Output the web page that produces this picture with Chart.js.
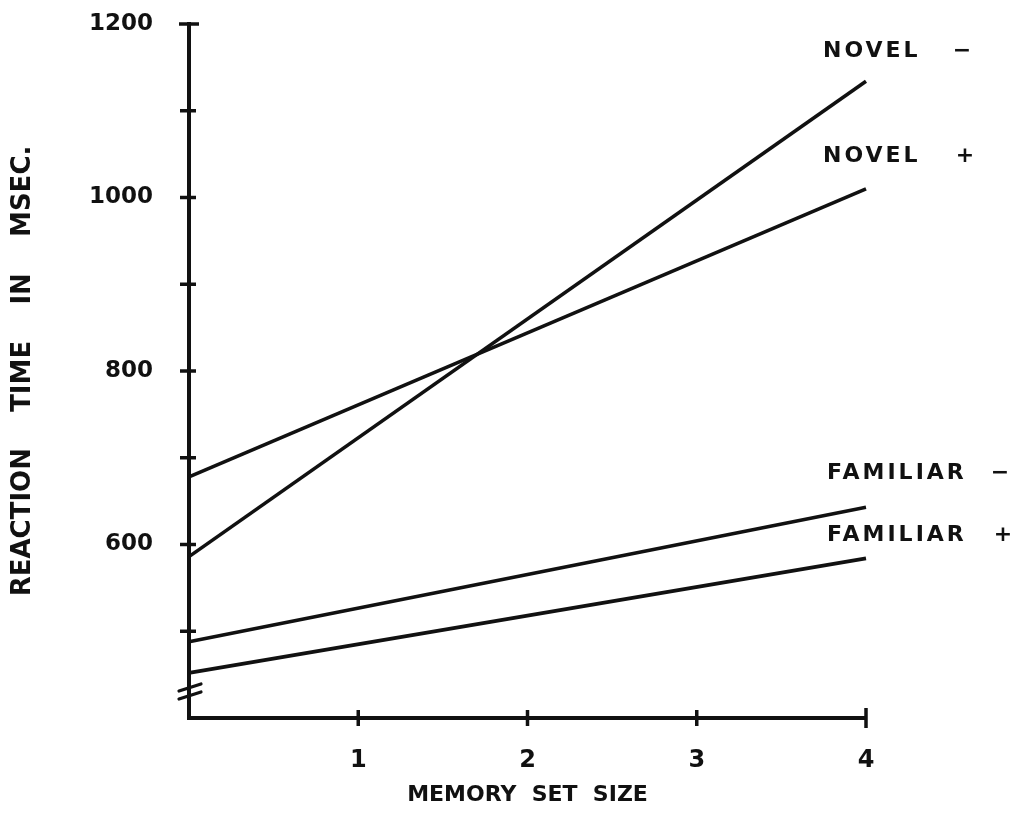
<!DOCTYPE html>
<html>
<head>
<meta charset="utf-8">
<title>Reaction time by memory set size</title>
<script src="https://cdn.jsdelivr.net/npm/chart.js@4.4.1/dist/chart.umd.min.js"></script>
<style>
  html, body { margin: 0; padding: 0; background: #ffffff; }
  #wrap { width: 1013px; height: 833px; }
</style>
</head>
<body>
<div id="wrap"><canvas id="chart" width="1013" height="833"></canvas></div>
<script>
// Memory set size (x) and fitted reaction times in msec (y)
const setSizes    = [0, 4];
const novelNeg    = [586, 1134];
const novelPos    = [678, 1010];
const familiarNeg = [488, 643];
const familiarPos = [452, 584];

const seriesNames = ['NOVEL', 'NOVEL', 'FAMILIAR', 'FAMILIAR'];
const seriesSigns = ['\u2212', '+', '\u2212', '+'];

// Axis ticks
const yMin = 400, yMax = 1200, yStep = 100;
const yLabeledTicks = [600, 800, 1000, 1200];
const yTickMarks = [500, 600, 700, 800, 900, 1000, 1100, 1200];
const xTickMarks = [1, 2, 3, 4];

const INK = '#111111';
const FONT = '"DejaVu Sans", "Liberation Sans", sans-serif';

const toPoints = vals => setSizes.map((s, i) => ({ x: s, y: vals[i] }));
const lineStyle = { borderColor: INK, borderWidth: 3.6, pointRadius: 0, tension: 0, fill: false, clip: false };

// Crossing tick marks, axis caps, axis break and end-of-line labels
const axisMarks = {
  id: 'axisMarks',
  afterDraw(chart, args, opts) {
    const { ctx, chartArea: a } = chart;
    const x = chart.scales.x, y = chart.scales.y;
    ctx.save();
    ctx.strokeStyle = INK;
    ctx.lineWidth = 3.5;
    ctx.lineCap = 'butt';

    yTickMarks.forEach(v => {
      const py = y.getPixelForValue(v);
      const isCap = v === yMax;
      ctx.beginPath();
      ctx.moveTo(a.left - (isCap ? 10 : 9), py);
      ctx.lineTo(a.left + (isCap ? 10 : 7), py);
      ctx.stroke();
    });

    xTickMarks.forEach(v => {
      const px = x.getPixelForValue(v);
      const isCap = v === xTickMarks[xTickMarks.length - 1];
      ctx.beginPath();
      ctx.moveTo(px, a.bottom - (isCap ? 10 : 8));
      ctx.lineTo(px, a.bottom + (isCap ? 10 : 8));
      ctx.stroke();
    });

    // axis break strokes near the bottom of the y axis
    ctx.lineWidth = 3.2;
    ctx.lineCap = 'round';
    [31, 23].forEach(off => {
      const by = a.bottom - off;
      ctx.beginPath();
      ctx.moveTo(a.left - 10, by + 4);
      ctx.lineTo(a.left + 12, by - 3);
      ctx.stroke();
    });

    // series labels at the right
    ctx.fillStyle = INK;
    ctx.textBaseline = 'middle';
    ctx.font = 'bold 22px ' + FONT;
    opts.labels.forEach((l, i) => {
      const py = y.getPixelForValue(l.at);
      ctx.letterSpacing = '3px';
      ctx.textAlign = 'left';
      ctx.fillText(seriesNames[i], l.nameX, py);
      ctx.letterSpacing = '0px';
      ctx.textAlign = 'center';
      ctx.fillText(seriesSigns[i], l.signX, py);
    });
    ctx.restore();
  }
};

new Chart(document.getElementById('chart'), {
  type: 'line',
  data: {
    datasets: [
      { label: 'NOVEL \u2212', data: toPoints(novelNeg), ...lineStyle },
      { label: 'NOVEL +', data: toPoints(novelPos), ...lineStyle },
      { label: 'FAMILIAR \u2212', data: toPoints(familiarNeg), ...lineStyle },
      { label: 'FAMILIAR +', data: toPoints(familiarPos), ...lineStyle }
    ]
  },
  options: {
    responsive: false,
    devicePixelRatio: 1,
    animation: false,
    events: [],
    layout: { autoPadding: false, padding: { top: 24, right: 147, left: 0, bottom: 0 } },
    plugins: {
      legend: { display: false },
      tooltip: { enabled: false },
      axisMarks: {
        labels: [
          { at: 1168, nameX: 823, signX: 962 },
          { at: 1047, nameX: 823, signX: 965 },
          { at: 682,  nameX: 827, signX: 1000 },
          { at: 611,  nameX: 827, signX: 1003 }
        ]
      }
    },
    scales: {
      x: {
        type: 'linear',
        min: 0,
        max: 4,
        grid: { display: false, drawTicks: false },
        border: { display: true, color: INK, width: 4 },
        afterFit: s => { s.height = 115; s.paddingLeft = 0; s.paddingRight = 0; },
        ticks: {
          stepSize: 1,
          padding: 28,
          color: INK,
          font: { family: FONT, size: 24, weight: 'bold' },
          callback: v => (xTickMarks.includes(v) ? String(v) : '')
        },
        title: {
          display: true,
          text: 'MEMORY  SET  SIZE',
          color: INK,
          font: { family: FONT, size: 22, weight: 'bold' },
          padding: { top: 0, bottom: 25 }
        }
      },
      y: {
        min: yMin,
        max: yMax,
        grid: { display: false, drawTicks: false },
        border: { display: true, color: INK, width: 4 },
        afterFit: s => { s.width = 189; s.paddingTop = 0; s.paddingBottom = 0; },
        ticks: {
          stepSize: yStep,
          padding: 36,
          color: INK,
          font: { family: FONT, size: 23, weight: 'bold' },
          callback: v => (yLabeledTicks.includes(v) ? String(v) : '')
        },
        title: {
          display: true,
          text: 'REACTION    TIME    IN    MSEC.',
          color: INK,
          font: { family: FONT, size: 26, weight: 'bold' },
          padding: { top: 8, bottom: 0 }
        }
      }
    }
  },
  plugins: [axisMarks]
});
</script>
</body>
</html>
